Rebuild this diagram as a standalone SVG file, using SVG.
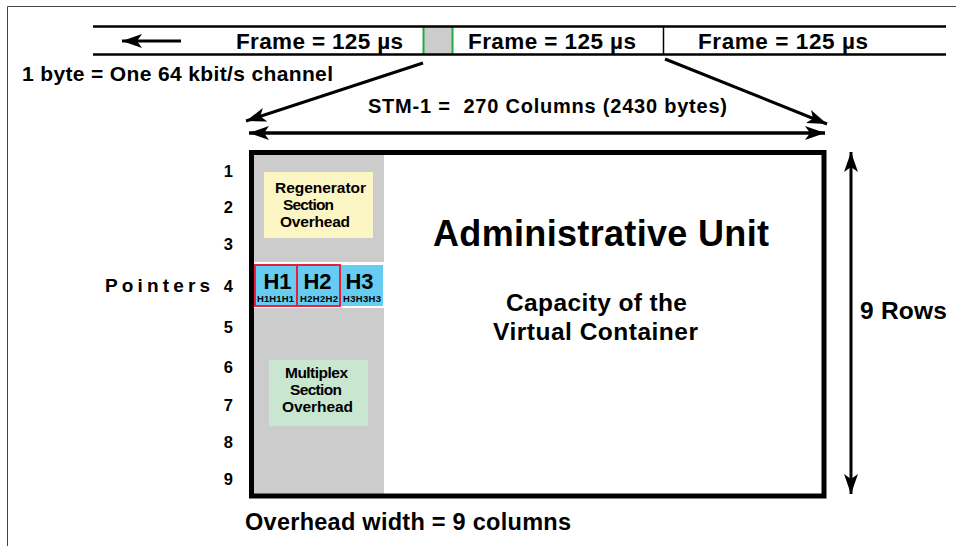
<svg xmlns="http://www.w3.org/2000/svg" width="956" height="546" viewBox="0 0 956 546">
<defs>
<marker id="ah" markerUnits="userSpaceOnUse" markerWidth="24" markerHeight="16" refX="20" refY="7" orient="auto-start-reverse" viewBox="0 0 24 14">
<path d="M0,0 L20,7 L0,14 L5,7 Z" fill="#000"/>
</marker>
</defs>
<style>
text{font-family:"Liberation Sans",Arial,sans-serif;font-weight:bold;fill:#000}
.fr{font-size:22.5px;text-anchor:middle}
.rn{font-size:16.5px;text-anchor:end}
.box{font-size:15.5px}
.hb{font-size:22px;text-anchor:middle}
.hs{font-size:9.5px}
.ln{stroke:#000;fill:none}
</style>
<rect width="956" height="546" fill="#fff"/>
<path d="M7.5,546 V6.5 H956" stroke="#444" stroke-width="1" fill="none"/>

<g id="frame-band">
<rect x="423" y="27" width="30" height="27" fill="#cccccc"/>
<line x1="423.5" y1="27" x2="423.5" y2="54" stroke="#22aa44" stroke-width="2"/>
<line x1="452.5" y1="27" x2="452.5" y2="54" stroke="#22aa44" stroke-width="2"/>
<line x1="663.5" y1="27" x2="663.5" y2="55" stroke="#000" stroke-width="1.5"/>
<line x1="93" y1="26.5" x2="946" y2="26.5" stroke="#000" stroke-width="2.5"/>
<line x1="93" y1="54.5" x2="946" y2="54.5" stroke="#000" stroke-width="2.5"/>
<text class="fr" x="319.5" y="49" textLength="167">Frame = 125 µs</text>
<text class="fr" x="552" y="49" textLength="168">Frame = 125 µs</text>
<text class="fr" x="783" y="49" textLength="170">Frame = 125 µs</text>
</g>

<text x="22" y="81" font-size="21px" textLength="311">1 byte = One 64 kbit/s channel</text>
<text x="368" y="113" font-size="20px" textLength="359" xml:space="preserve">STM-1 =  270 Columns (2430 bytes)</text>

<g id="connectors">
<line class="ln" x1="181" y1="41" x2="122" y2="41" stroke-width="3" marker-end="url(#ah)"/>
<line class="ln" x1="423" y1="63" x2="246" y2="121" stroke-width="3" marker-end="url(#ah)"/>
<line class="ln" x1="665" y1="59" x2="827" y2="124" stroke-width="3" marker-end="url(#ah)"/>
<line class="ln" x1="249" y1="133" x2="825" y2="133" stroke-width="3.5" marker-start="url(#ah)" marker-end="url(#ah)"/>
<line class="ln" x1="851" y1="152" x2="851" y2="494" stroke-width="3" marker-start="url(#ah)" marker-end="url(#ah)"/>
</g>

<g id="stm1-frame">
<rect x="254" y="155" width="130" height="339" fill="#cccccc"/>
<rect x="251.5" y="152.5" width="572.5" height="343.5" fill="none" stroke="#000" stroke-width="5"/>
</g>

<g id="rso">
<rect x="264" y="172" width="109" height="66" fill="#fcf5c4"/>
<text class="box" x="275" y="193" textLength="91">Regenerator</text>
<text class="box" x="283" y="209.5" textLength="51">Section</text>
<text class="box" x="280" y="226.5" textLength="70">Overhead</text>
</g>

<g id="pointers">
<rect x="254" y="262" width="130" height="46" fill="#fff"/>
<rect x="254" y="265" width="129" height="41" fill="#66ccf2"/>
<rect x="255" y="265" width="42" height="41" fill="none" stroke="#e8203a" stroke-width="2"/>
<rect x="297" y="265" width="43" height="41" fill="none" stroke="#e8203a" stroke-width="2"/>
<text class="hb" x="277.5" y="289">H1</text>
<text class="hb" x="317.5" y="289">H2</text>
<text class="hb" x="359.5" y="289">H3</text>
<text class="hs" x="257" y="302" textLength="37">H1H1H1</text>
<text class="hs" x="300" y="302" textLength="38">H2H2H2</text>
<text class="hs" x="343" y="302" textLength="38">H3H3H3</text>
</g>

<g id="mso">
<rect x="269" y="360" width="99" height="66" fill="#c8e6d0"/>
<text class="box" x="285" y="377.5" textLength="63">Multiplex</text>
<text class="box" x="290" y="394.5" textLength="52">Section</text>
<text class="box" x="282" y="412" textLength="71">Overhead</text>
</g>

<g id="rows">
<text class="rn" x="233" y="177">1</text>
<text class="rn" x="233" y="213">2</text>
<text class="rn" x="233" y="250">3</text>
<text class="rn" x="233" y="292">4</text>
<text class="rn" x="233" y="333">5</text>
<text class="rn" x="233" y="373">6</text>
<text class="rn" x="233" y="411">7</text>
<text class="rn" x="233" y="448">8</text>
<text class="rn" x="233" y="485">9</text>
<text x="105" y="292" font-size="19px" textLength="105">Pointers</text>
</g>

<g id="au">
<text x="433" y="246" font-size="36px" textLength="336">Administrative Unit</text>
<text x="506" y="311" font-size="24.5px" textLength="181">Capacity of the</text>
<text x="493" y="340" font-size="24.5px" textLength="205">Virtual Container</text>
</g>

<text x="860" y="319" font-size="24.5px" textLength="87">9 Rows</text>
<text x="245" y="530" font-size="23.5px" textLength="326">Overhead width = 9 columns</text>
</svg>
